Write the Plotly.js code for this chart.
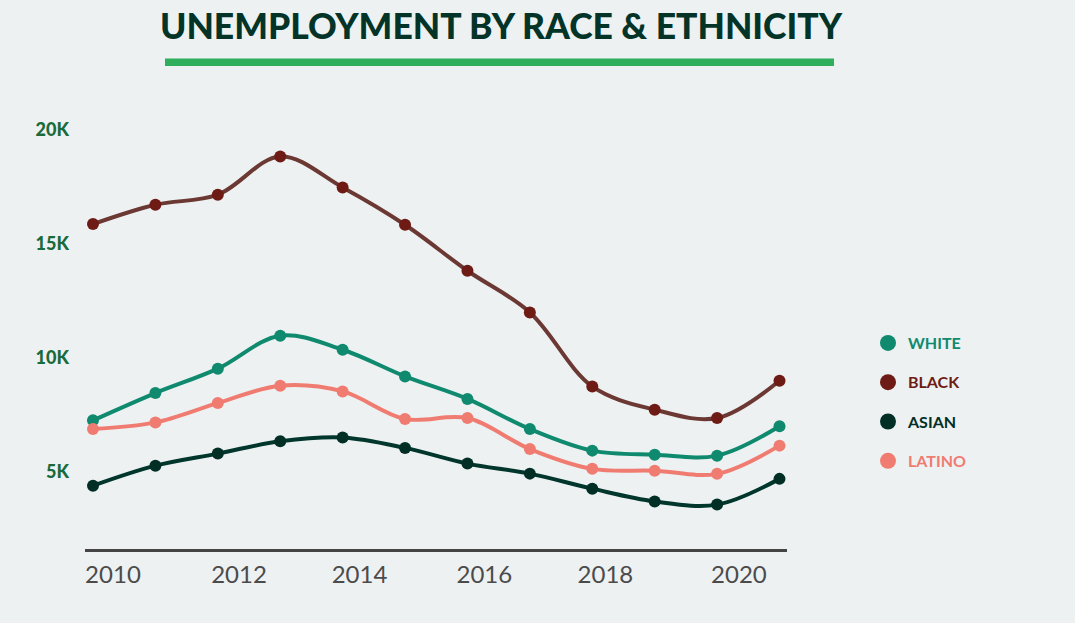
<!DOCTYPE html>
<html>
<head>
<meta charset="utf-8">
<script src="https://cdn.plot.ly/plotly-3.0.1.min.js"></script>
<style>
  html, body { margin: 0; padding: 0; background: #edf1f2; }
  #chart { width: 1075px; height: 623px; }
</style>
</head>
<body>
<div id="chart"></div>
<script>
// ---- data ----
const years = [2010, 2011, 2012, 2013, 2014, 2015, 2016, 2017, 2018, 2019, 2020, 2021];
const white  = [7240, 8440, 9510, 10960, 10340, 9170, 8180, 6860, 5910, 5730, 5690, 6980];
const black  = [15860, 16710, 17150, 18830, 17470, 15830, 13810, 11980, 8730, 7710, 7340, 8980];
const asian  = [4370, 5250, 5780, 6320, 6490, 6030, 5340, 4900, 4240, 3680, 3540, 4670];
const latino = [6860, 7150, 8000, 8760, 8510, 7300, 7340, 5980, 5110, 5030, 4890, 6130];
const seriesNames = ['WHITE', 'BLACK', 'ASIAN', 'LATINO'];
const xTickLabels = ['2010', '2012', '2014', '2016', '2018', '2020'];
const xTickVals = [2010.32, 2012.34, 2014.27, 2016.27, 2018.21, 2020.35];
const yTickVals = [5000, 10000, 15000, 20000];
const yTickLabels = ['5K', '10K', '15K', '20K'];

// ---- styles ----
const W = 1075, H = 623;
const M = { l: 85, r: 288, t: 110, b: 74 };
const pw = W - M.l - M.r, ph = H - M.t - M.b;
const px2x = px => (px - M.l) / pw;
const px2y = py => (H - M.b - py) / ph;

const styles = {
  WHITE:  { line: '#0f8a6f', marker: '#0f8a6f' },
  BLACK:  { line: '#6b3833', marker: '#6d1b14' },
  ASIAN:  { line: '#01362c', marker: '#012f26' },
  LATINO: { line: '#f07c71', marker: '#f07c71' }
};
const valuesByName = { WHITE: white, BLACK: black, ASIAN: asian, LATINO: latino };

const drawOrder = ['BLACK', 'WHITE', 'LATINO', 'ASIAN'];
const traces = [];
drawOrder.forEach(n => {
  traces.push({
    x: years, y: valuesByName[n], type: 'scatter', mode: 'lines+markers',
    line: { color: styles[n].line, width: 4, shape: 'spline', smoothing: 1 },
    marker: { color: styles[n].marker, size: 12 },
    showlegend: false, hoverinfo: 'skip'
  });
});
seriesNames.forEach((n, i) => {
  traces.push({
    x: [null], y: [null], type: 'scatter', mode: 'markers',
    name: '<b><span style="color:' + styles[n].marker + '">' + n + '</span></b>',
    marker: { color: styles[n].marker, size: 20 },
    legendgroup: 'g' + i, showlegend: true, hoverinfo: 'skip'
  });
});

const layout = {
  width: W, height: H,
  margin: M,
  paper_bgcolor: '#edf1f2',
  plot_bgcolor: 'rgba(0,0,0,0)',
  font: { family: 'Lato, sans-serif' },
  title: {
    text: 'UNEMPLOYMENT BY RACE &amp; ETHNICITY',
    font: { family: 'Lato, sans-serif', size: 35.5, color: '#043428', weight: 900 },
    xref: 'container', yref: 'container',
    x: 501 / W, xanchor: 'center',
    y: 1 - 27 / H, yanchor: 'middle'
  },
  xaxis: {
    range: [2009.872, 2021.12],
    showgrid: false, zeroline: false,
    showline: true, linecolor: '#444444', linewidth: 3,
    tickvals: xTickVals, ticktext: xTickLabels,
    ticks: '', ticklabelstandoff: 2,
    tickfont: { family: 'Lato, sans-serif', size: 24, color: '#4b4b4b' },
    fixedrange: true
  },
  yaxis: {
    range: [1590, 20870],
    showgrid: false, zeroline: false, showline: false,
    tickvals: yTickVals, ticktext: yTickLabels,
    ticks: '', ticklabelstandoff: 15,
    tickfont: { family: 'Lato, sans-serif', size: 18, color: '#1a6b3b', weight: 900 },
    fixedrange: true
  },
  legend: {
    x: px2x(868), xanchor: 'left',
    y: px2y(326), yanchor: 'top',
    bgcolor: 'rgba(0,0,0,0)', borderwidth: 0,
    traceorder: 'grouped', tracegroupgap: 15.5,
    font: { family: 'Lato, sans-serif', size: 16 }
  },
  shapes: [{
    type: 'rect', xref: 'paper', yref: 'paper',
    x0: px2x(165), x1: px2x(834), y0: px2y(66), y1: px2y(58.5),
    fillcolor: '#2fae5b', line: { width: 0 }, layer: 'above'
  }],
  hovermode: false
};

Plotly.newPlot('chart', traces, layout, { displayModeBar: false, staticPlot: true });
</script>
</body>
</html>
